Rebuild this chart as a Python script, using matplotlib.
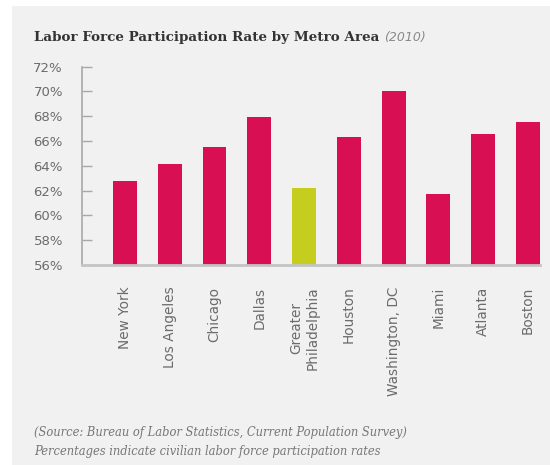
import matplotlib.pyplot as plt
from matplotlib.patches import Rectangle

metros = ['New York', 'Los Angeles', 'Chicago', 'Dallas', 'Greater\nPhiladelphia',
          'Houston', 'Washington, DC', 'Miami', 'Atlanta', 'Boston']
rates = [62.8, 64.15, 65.5, 67.95, 62.25, 66.35, 70.0, 61.7, 66.6, 67.5]
highlight = 'Greater\nPhiladelphia'
y_ticks = [56, 58, 60, 62, 64, 66, 68, 70, 72]

W, H = 550, 465
fig = plt.figure(figsize=(W / 100, H / 100), dpi=100)
fig.patch.set_facecolor('white')

# light gray panel behind everything
fig.add_artist(Rectangle((12 / W, 0), 1 - 12 / W, 1 - 6 / H, transform=fig.transFigure,
                         facecolor='#f1f1f1', edgecolor='none', zorder=-5))

ax_left, ax_right, ax_top, ax_bottom = 82, 540, 66.7, 265
ax = fig.add_axes([ax_left / W, 1 - ax_bottom / H, (ax_right - ax_left) / W, (ax_bottom - ax_top) / H])
ax.set_facecolor('none')

colors = ['#c5cd1f' if m == highlight else '#d80f52' for m in metros]
x = list(range(len(metros)))
ax.bar(x, [r - 56 for r in rates], bottom=56, width=0.535, color=colors, zorder=2)

ax.set_xlim(-0.96, 9.27)
ax.set_ylim(56, 72)
ax.set_yticks(y_ticks)
ax.set_yticklabels([f'{t}%' for t in y_ticks])
ax.set_xticks(x)
ax.set_xticklabels(metros, rotation=90, va='top', ha='center', multialignment='center')

for s in ['top', 'right']:
    ax.spines[s].set_visible(False)
ax.spines['left'].set_color('#a8a8a8')
ax.spines['left'].set_linewidth(1.2)
ax.spines['bottom'].set_color('#c4c4c4')
ax.spines['bottom'].set_linewidth(2)

ax.tick_params(axis='y', direction='in', length=7, width=1, color='#a8a8a8',
               pad=13.7, labelsize=9.5, labelcolor='#6b6b6b')
ax.tick_params(axis='x', length=0, pad=15.5, labelsize=9.8, labelcolor='#6b6b6b')

title = fig.text(34 / W, 1 - 37 / H, 'Labor Force Participation Rate by Metro Area',
                 family='DejaVu Serif', weight='bold', fontsize=9.7, color='#333333', va='center')
fig.canvas.draw()
bb = title.get_window_extent()
fig.text((bb.x1 + 5) / W, 1 - 37 / H, '(2010)', style='italic', fontsize=9, color='#8a8a8a', va='center')

fig.text(34 / W, 1 - 432 / H, '(Source: Bureau of Labor Statistics, Current Population Survey)',
         family='DejaVu Serif', style='italic', fontsize=8.3, color='#777777', va='center')
fig.text(34 / W, 1 - 451 / H, 'Percentages indicate civilian labor force participation rates',
         family='DejaVu Serif', style='italic', fontsize=8.3, color='#777777', va='center')

fig.savefig('out.png', dpi=100)
